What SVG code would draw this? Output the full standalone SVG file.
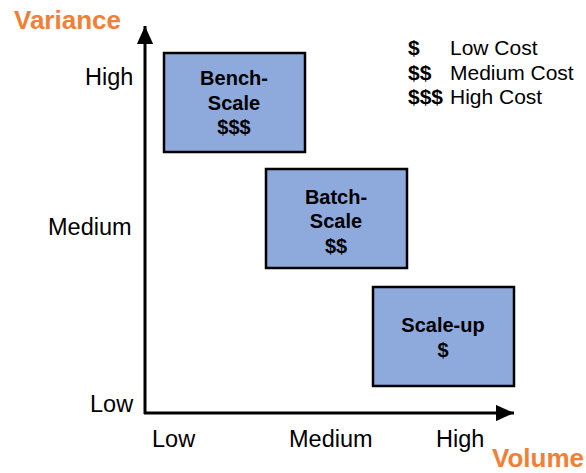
<svg xmlns="http://www.w3.org/2000/svg" width="586" height="473" viewBox="0 0 586 473">
  <style>
    text { font-family: "Liberation Sans", Arial, sans-serif; fill: #000; }
    .tick { font-size: 23.5px; }
    .axis-title { font-size: 26px; font-weight: bold; fill: #F08038; }
    .box { fill: #8EA9DB; stroke: #000; stroke-width: 2.5; }
    .box-label { font-size: 20px; font-weight: bold; text-anchor: middle; }
    .legend { font-size: 21px; }
    .legend-sym { font-size: 21px; font-weight: bold; }
    .axis { stroke: #000; stroke-width: 3; fill: none; }
  </style>
  <defs>
    <marker id="arrow" markerWidth="6" markerHeight="5.4" refX="6" refY="2.7" orient="auto" markerUnits="strokeWidth">
      <path d="M0,0 L6,2.7 L0,5.4 Z" fill="#000"/>
    </marker>
  </defs>
  <rect width="586" height="473" fill="#fff"/>

  <!-- axes -->
  <g id="connectors">
    <path class="axis" d="M145,414 L145,26" marker-end="url(#arrow)"/>
    <path class="axis" d="M144,413 L514,413" marker-end="url(#arrow)"/>
  </g>

  <!-- axis titles and ticks -->
  <g id="axis-labels">
    <text class="axis-title" x="14" y="29">Variance</text>
    <text class="axis-title" x="584" y="467" text-anchor="end">Volume</text>
    <text class="tick" x="85" y="85">High</text>
    <text class="tick" x="48" y="235">Medium</text>
    <text class="tick" x="90" y="412">Low</text>
    <text class="tick" x="152" y="447">Low</text>
    <text class="tick" x="289" y="447">Medium</text>
    <text class="tick" x="436" y="447">High</text>
  </g>

  <!-- legend -->
  <g id="legend">
    <text class="legend-sym" x="408" y="55">$</text>
    <text class="legend" x="450" y="55">Low Cost</text>
    <text class="legend-sym" x="408" y="80">$$</text>
    <text class="legend" x="450" y="80">Medium Cost</text>
    <text class="legend-sym" x="408" y="104">$$$</text>
    <text class="legend" x="450" y="104">High Cost</text>
  </g>

  <g id="bench-scale">
    <rect class="box" x="164" y="53" width="141" height="99"/>
    <text class="box-label" x="234" y="85">Bench-</text>
    <text class="box-label" x="234" y="110">Scale</text>
    <text class="box-label" x="234" y="134">$$$</text>
  </g>

  <g id="batch-scale">
    <rect class="box" x="266" y="169" width="141" height="99"/>
    <text class="box-label" x="336" y="204">Batch-</text>
    <text class="box-label" x="336" y="228">Scale</text>
    <text class="box-label" x="336" y="253">$$</text>
  </g>

  <g id="scale-up">
    <rect class="box" x="373" y="287" width="141" height="99"/>
    <text class="box-label" x="443" y="332">Scale-up</text>
    <text class="box-label" x="443" y="357">$</text>
  </g>
</svg>
